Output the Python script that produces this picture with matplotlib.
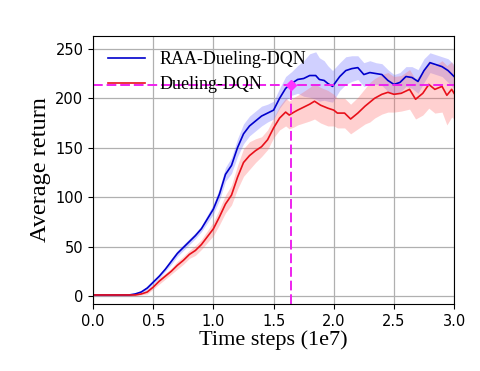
import numpy as np
import matplotlib.pyplot as plt

# RAA-Dueling-DQN (time steps in 1e7)
raa_x = [0.0, 0.1, 0.2, 0.3, 0.35, 0.4, 0.45, 0.5, 0.55, 0.6, 0.65, 0.7, 0.75, 0.8, 0.85,
         0.9, 0.95, 1.0, 1.05, 1.1, 1.15, 1.2, 1.25, 1.3, 1.35, 1.4, 1.45, 1.5, 1.55, 1.6,
         1.65, 1.7, 1.75, 1.8, 1.85, 1.88, 1.92, 1.95, 1.99, 2.05, 2.1, 2.15, 2.2, 2.25,
         2.3, 2.35, 2.4, 2.45, 2.5, 2.55, 2.6, 2.65, 2.7, 2.75, 2.8, 2.85, 2.9, 2.95, 3.0]
raa_mean = [1, 1, 1, 1, 2, 4, 8, 14, 20, 27, 35, 43, 49, 55, 61,
            68, 78, 88, 103, 123, 132, 150, 164, 172, 177, 182, 185, 188, 200, 210,
            215, 219, 220, 223, 223, 219, 218, 215, 212, 222, 228, 230, 231, 224,
            226, 225, 224, 218, 214, 216, 222, 221, 217, 228, 236, 234, 232, 228, 222]
raa_std = [1, 1, 1, 1, 1, 1, 2, 2, 2, 2, 3, 3, 3, 3, 3,
           3, 4, 5, 6, 7, 8, 9, 10, 10, 10, 10, 9, 9, 10, 12,
           12, 14, 18, 22, 24, 22, 20, 18, 16, 14, 14, 13, 12, 12,
           12, 11, 11, 11, 10, 10, 10, 11, 12, 12, 10, 10, 10, 12, 12]

# Dueling-DQN
dq_x = [0.0, 0.1, 0.2, 0.3, 0.35, 0.4, 0.45, 0.5, 0.55, 0.6, 0.65, 0.7, 0.75, 0.8, 0.85,
        0.9, 0.95, 1.0, 1.05, 1.1, 1.15, 1.2, 1.25, 1.3, 1.35, 1.4, 1.45, 1.5, 1.55, 1.6,
        1.63, 1.67, 1.7, 1.75, 1.8, 1.84, 1.89, 1.95, 2.0, 2.03, 2.09, 2.14, 2.2, 2.26,
        2.3, 2.34, 2.4, 2.45, 2.5, 2.56, 2.63, 2.68, 2.74, 2.79, 2.84, 2.9, 2.94, 2.98, 3.0]
dq_mean = [1, 1, 1, 1, 1, 2, 4, 9, 15, 20, 25, 31, 36, 42, 46,
           52, 60, 68, 80, 93, 102, 120, 135, 142, 147, 151, 158, 170, 180, 186,
           183, 186, 188, 191, 194, 197, 193, 190, 188, 185, 185, 179, 185, 192,
           196, 200, 204, 206, 204, 205, 209, 199, 205, 214, 209, 212, 203, 209, 205]
dq_std = [1, 1, 1, 1, 1, 1, 2, 2, 3, 3, 3, 4, 4, 4, 5,
          5, 6, 7, 8, 9, 10, 12, 14, 14, 12, 10, 10, 10, 12, 14,
          14, 15, 15, 16, 17, 18, 18, 18, 16, 15, 15, 15, 16, 18,
          20, 20, 20, 20, 18, 18, 20, 20, 22, 24, 24, 26, 30, 28, 26]

cross_x = 1.645
cross_y = 213

plt.rcParams['font.family'] = 'DejaVu Sans'
fig = plt.figure(figsize=(4.8, 3.71), dpi=100)
ax = fig.add_axes([0.194, 0.181, 0.752, 0.722])

raa_mean = np.array(raa_mean)
raa_std = np.array(raa_std)
dq_mean = np.array(dq_mean)
dq_std = np.array(dq_std)

ax.fill_between(raa_x, raa_mean - raa_std, raa_mean + raa_std, color='#6666ff', alpha=0.3, lw=0)
ax.fill_between(dq_x, dq_mean - dq_std, dq_mean + dq_std, color='#ff6666', alpha=0.3, lw=0)
ax.plot(raa_x, raa_mean, color='#0000cc', lw=1.2, label='RAA-Dueling-DQN')
ax.plot(dq_x, dq_mean, color='#e8101a', lw=1.2, label='Dueling-DQN')

# reference lines
ax.axhline(cross_y, color='#ee22ee', ls=(0, (5, 2)), lw=1.4)
ax.plot([cross_x, cross_x], [-8, cross_y], color='#ee22ee', ls=(0, (5, 2)), lw=1.4)
ax.plot([cross_x], [cross_y], marker='D', color='#ff33ff', ms=5)

ax.set_xlim(0, 3.0)
ax.set_ylim(-8, 263)
ax.set_xticks([0.0, 0.5, 1.0, 1.5, 2.0, 2.5, 3.0])
ax.set_yticks([0, 50, 100, 150, 200, 250])
ax.tick_params(labelsize=10.5)
ax.grid(True, color='#b0b0b0', lw=0.9)
ax.set_axisbelow(True)

ax.set_xlabel('Time steps (1e7)', family='Liberation Serif', fontsize=16, labelpad=1)
ax.set_ylabel('Average return', family='Liberation Serif', fontsize=17.5, labelpad=3)
ax.legend(loc='upper left', frameon=False, prop={'family': 'Liberation Serif', 'size': 13},
          borderaxespad=0.45, handlelength=2.05, handletextpad=0.8, labelspacing=0.45)

fig.savefig('out.png', dpi=100)
